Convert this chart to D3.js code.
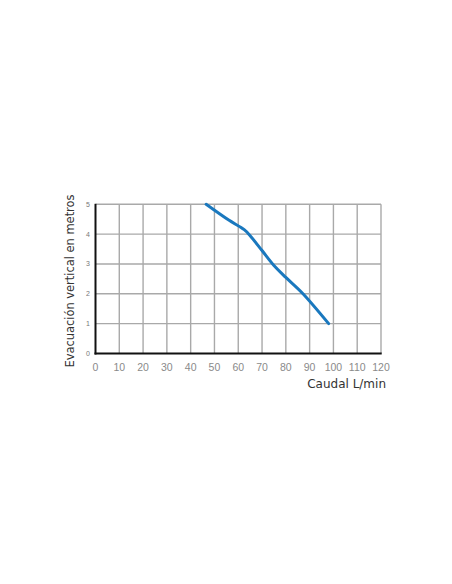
<!DOCTYPE html>
<html><head><meta charset="utf-8">
<script src="https://cdn.jsdelivr.net/npm/d3@7"></script>
<style>body{margin:0;background:#fff}svg{display:block}</style>
</head><body>
<script>
const caudal = [46.5, 56, 62.5, 65, 70, 75, 80, 87, 98];
const altura = [5, 4.47, 4.15, 3.95, 3.45, 2.95, 2.55, 2.02, 1];
const xTicks = [0,10,20,30,40,50,60,70,80,90,100,110,120];
const yTicks = [0,1,2,3,4,5];
const xTitle = "Caudal L/min";
const yTitle = "Evacuación vertical en metros";

const W = 452, H = 584;
const svg = d3.select("body").append("svg").attr("width", W).attr("height", H);
const x = d3.scaleLinear().domain([0,120]).range([95.5, 381]);
const y = d3.scaleLinear().domain([0,5]).range([353.5, 204.3]);

const g = svg.append("g");
// grid
g.selectAll(".vg").data(xTicks.slice(1)).join("line")
  .attr("x1", d=>x(d)).attr("x2", d=>x(d)).attr("y1", y(5)).attr("y2", y(0))
  .attr("stroke", "#a9a9a9").attr("stroke-width", 1.4);
g.selectAll(".hg").data(yTicks.slice(1)).join("line")
  .attr("x1", x(0)).attr("x2", x(120)).attr("y1", d=>y(d)).attr("y2", d=>y(d))
  .attr("stroke", "#a9a9a9").attr("stroke-width", 1.4);
// axes
g.append("line").attr("x1", x(0)).attr("x2", x(0)).attr("y1", y(5)-0.5).attr("y2", y(0)+1)
  .attr("stroke", "#111").attr("stroke-width", 2);
g.append("line").attr("x1", x(0)-1).attr("x2", x(120)+0.7).attr("y1", y(0)).attr("y2", y(0))
  .attr("stroke", "#111").attr("stroke-width", 2);

// tick labels
g.selectAll(".xt").data(xTicks).join("text")
  .attr("x", d=>x(d)).attr("y", 371).attr("text-anchor","middle")
  .attr("font-family","Liberation Sans, Arial").attr("font-size", 10.5).attr("fill","#8a8a8a")
  .text(d=>d);
g.selectAll(".yt").data(yTicks).join("text")
  .attr("x", 90).attr("y", d=>y(d)+2.5).attr("text-anchor","end")
  .attr("font-family","Liberation Sans, Arial").attr("font-size", 7).attr("fill","#777")
  .text(d=>d);

// titles
g.append("text").attr("x", 386).attr("y", 388).attr("text-anchor","end")
  .attr("font-family","DejaVu Sans").attr("font-size", 12).attr("fill","#333")
  .text(xTitle);
g.append("text").attr("transform","translate(74,281) rotate(-90)").attr("text-anchor","middle")
  .attr("font-family","DejaVu Sans").attr("font-size", 13).attr("fill","#333")
  .attr("textLength", 173).attr("lengthAdjust","spacingAndGlyphs")
  .text(yTitle);

// curve
const pts = caudal.map((c,i)=>[c, altura[i]]);
g.append("path").datum(pts)
  .attr("d", d3.line().x(d=>x(d[0])).y(d=>y(d[1])).curve(d3.curveCatmullRom))
  .attr("fill","none").attr("stroke","#1a78be").attr("stroke-width",3).attr("stroke-linecap","round");
</script>
</body></html>
